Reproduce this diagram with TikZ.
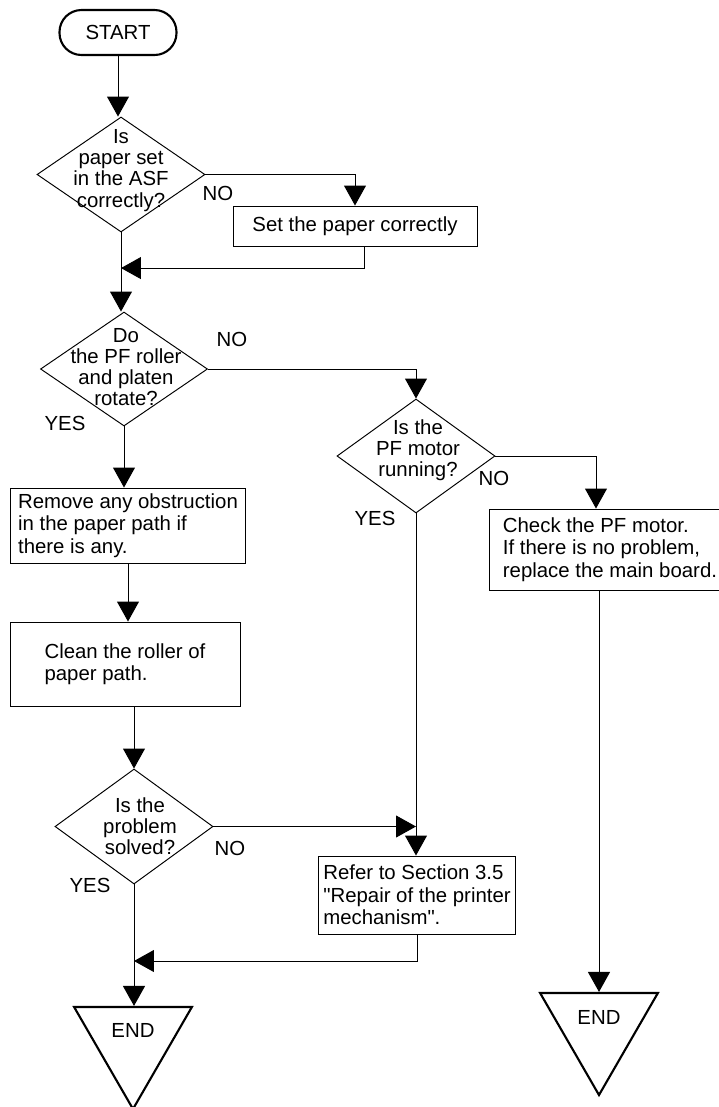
\documentclass[tikz,border=0pt]{standalone}
\usepackage{fontspec}
\setmainfont{Liberation Sans}
\usetikzlibrary{arrows.meta,shapes.geometric,calc}

\begin{document}
\begin{tikzpicture}[x=0.02cm, y=-0.02cm, >={Triangle[length=0.4cm,width=0.44cm]}, line width=0.55pt]

        \def\px{0.02cm}                                   % one pixel of the scan
        \def\fs{\fontsize{11.6pt}{12.7pt}\selectfont}     % text in boxes
        \def\dfs{\fontsize{11.6pt}{12pt}\selectfont}      % text in diamonds
        \tikzstyle{every node}=[font=\fs]
        \tikzstyle{terminal}=[draw, line width=1.2pt, rounded corners=0.44cm, minimum width=117*\px, minimum height=45*\px]
        \tikzstyle{decision}=[diamond, draw, inner sep=0pt]
        \tikzstyle{decisiontext}=[align=center, font=\dfs, inner sep=0pt]
        \tikzstyle{process}=[rectangle, draw, align=left, inner sep=0pt]
        \tikzstyle{finish}=[regular polygon, regular polygon sides=3, shape border rotate=180, draw, line width=1.2pt, minimum size=136*\px, inner sep=0pt]
        \tikzstyle{answer}=[inner sep=0pt]
        \tikzstyle{flow}=[->]

        \useasboundingbox (0,0) rectangle (719,1107);

        % Draw the start node
        \node[terminal] (start) at (118,32.5) {START};

        % Draw the decisions
        \node[decision, minimum width=168*\px, minimum height=115*\px,
              label={[decisiontext, yshift=4*\px]center:{Is\\paper set\\in the ASF\\correctly?}}] (asf) at (121,174.5) {};
        \node[decision, minimum width=167*\px, minimum height=114*\px,
              label={[decisiontext, yshift=2*\px, xshift=2*\px]center:{Do\\the PF roller\\and platen\\rotate?}}] (roller) at (124,369) {};
        \node[decision, minimum width=158*\px, minimum height=114*\px,
              label={[decisiontext, yshift=6*\px, xshift=2*\px]center:{Is the\\PF motor\\running?}}] (motor) at (416,456) {};
        \node[decision, minimum width=158*\px, minimum height=115*\px,
              label={[decisiontext, xshift=6*\px]center:{Is the\\problem\\solved?}}] (solved) at (134,826.5) {};

        % Draw the process boxes
        \node[process, minimum width=244*\px, minimum height=40*\px] (setpaper) at (355,226) {Set the paper correctly};
        \node[process, minimum width=235*\px, minimum height=75*\px] (obstruction) at (128,525.5)
              {Remove any obstruction\\in the paper path if\\there is any.};
        \node[process, minimum width=230*\px, minimum height=84*\px] (clean) at (125,664)
              {Clean the roller of\\paper path.};
        \node[process, minimum width=242*\px, minimum height=81*\px] (pfmotor) at (610,549.5)
              {Check the PF motor.\\If there is no problem,\\replace the main board.};
        \node[process, minimum width=197*\px, minimum height=78*\px] (refer) at (417,895)
              {Refer to Section 3.5\\\textquotedbl Repair of the printer\\mechanism\textquotedbl.};

        % Draw the end nodes
        \node[finish, label={[yshift=11*\px]center:END}] (end1) at (133,1041) {};
        \node[finish, label={[yshift=10*\px]center:END}] (end2) at (599,1027) {};

        % Draw the answers
        \node[answer] (no1) at (218,193.5) {NO};
        \node[answer] (no2) at (232,339) {NO};
        \node[answer] (yes2) at (65,423) {YES};
        \node[answer] (no3) at (494,478) {NO};
        \node[answer] (yes3) at (375,518) {YES};
        \node[answer] (no4) at (230,848) {NO};
        \node[answer] (yes4) at (90,885) {YES};

        % Joints on the lines
        \coordinate (join1) at ($(asf.south)!0.45!(asf.south |- roller.north)$);
        \coordinate (join2) at (motor.south |- solved.east);
        \coordinate (join3) at ($(solved.south)!0.63!(solved.south |- end1.north)$);

        % Connect the nodes
        \draw[flow] (start.south) -- (start.south |- asf.north);
        \draw[flow] (asf.east) -| (setpaper.north);
        \draw[flow] ([xshift=9*\px]setpaper.south) |- (join1);
        \draw[flow] (asf.south) -- (asf.south |- roller.north);
        \draw[flow] (roller.east) -| (motor.north);
        \draw[flow] (roller.south) -- (roller.south |- obstruction.north);
        \draw[flow] (obstruction.south) -- (obstruction.south |- clean.north);
        \draw[flow] (clean.south -| solved.north) -- (solved.north);
        \draw[flow] (motor.east) -| ([xshift=-14*\px]pfmotor.north);
        \draw[flow] ([xshift=-11*\px]pfmotor.south) -- (end2.north);
        \draw[flow] (motor.south) -- (motor.south |- refer.north);
        \draw[flow] (solved.east) -- (join2);
        \draw[flow] (solved.south) -- (solved.south |- end1.north);
        \draw[flow] (refer.south) |- (join3);

\end{tikzpicture}
\end{document}
